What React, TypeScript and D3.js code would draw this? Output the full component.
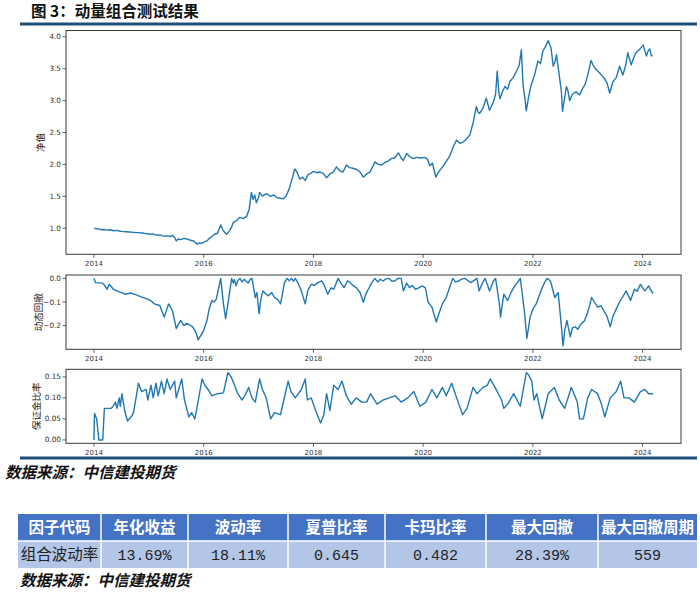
import React from 'react';
import * as d3 from 'd3';

// Net value (净值) series: [decimal year, value]
const navSeries: [number, number][] = [
  [2014.00, 1.00], [2014.05, 0.99], [2014.10, 0.985], [2014.14, 0.975], [2014.18, 0.98], [2014.23, 0.97], [2014.30, 0.975],
  [2014.36, 0.96], [2014.42, 0.965], [2014.46, 0.955], [2014.50, 0.95], [2014.58, 0.945], [2014.65, 0.94], [2014.72, 0.935],
  [2014.80, 0.93], [2014.88, 0.925], [2014.95, 0.915], [2015.02, 0.905], [2015.08, 0.91], [2015.14, 0.89],
  [2015.20, 0.895], [2015.26, 0.875], [2015.32, 0.88], [2015.39, 0.87], [2015.44, 0.885], [2015.48, 0.84],
  [2015.50, 0.80], [2015.54, 0.83], [2015.58, 0.82], [2015.64, 0.84], [2015.70, 0.83], [2015.76, 0.81],
  [2015.82, 0.80], [2015.88, 0.75], [2015.92, 0.77], [2015.96, 0.76], [2016.02, 0.79], [2016.06, 0.80],
  [2016.10, 0.84], [2016.15, 0.87], [2016.20, 0.905], [2016.25, 0.92], [2016.31, 1.05], [2016.35, 0.97],
  [2016.40, 0.92], [2016.42, 0.905], [2016.46, 0.95], [2016.50, 1.00], [2016.54, 1.09], [2016.60, 1.12],
  [2016.66, 1.17], [2016.72, 1.15], [2016.78, 1.18], [2016.83, 1.30], [2016.87, 1.56], [2016.90, 1.45],
  [2016.93, 1.52], [2016.96, 1.40], [2017.00, 1.48], [2017.02, 1.56], [2017.07, 1.50], [2017.12, 1.53],
  [2017.15, 1.54], [2017.22, 1.50], [2017.28, 1.52], [2017.33, 1.48], [2017.40, 1.47], [2017.45, 1.46],
  [2017.50, 1.50], [2017.56, 1.62], [2017.62, 1.80], [2017.66, 1.93], [2017.70, 1.88], [2017.75, 1.77],
  [2017.80, 1.80], [2017.85, 1.75], [2017.90, 1.84], [2017.95, 1.86], [2018.00, 1.89], [2018.06, 1.87],
  [2018.12, 1.88], [2018.18, 1.86], [2018.24, 1.79], [2018.30, 1.85], [2018.36, 1.88], [2018.42, 1.96],
  [2018.48, 1.90], [2018.54, 1.88], [2018.60, 1.99], [2018.66, 1.95], [2018.72, 1.94], [2018.79, 1.92],
  [2018.85, 1.88], [2018.91, 1.80], [2018.97, 1.85], [2019.03, 1.88], [2019.08, 1.96], [2019.12, 2.04],
  [2019.18, 2.00], [2019.24, 1.99], [2019.30, 2.03], [2019.36, 2.05], [2019.42, 2.09], [2019.48, 2.10],
  [2019.55, 2.18], [2019.60, 2.10], [2019.64, 2.06], [2019.70, 2.17], [2019.76, 2.12], [2019.82, 2.09],
  [2019.88, 2.11], [2019.95, 2.10], [2020.03, 2.11], [2020.08, 2.08], [2020.12, 1.98], [2020.17, 2.02],
  [2020.23, 1.80], [2020.28, 1.88], [2020.37, 1.98], [2020.43, 2.06], [2020.49, 2.14], [2020.55, 2.28],
  [2020.61, 2.38], [2020.67, 2.33], [2020.73, 2.35], [2020.79, 2.40], [2020.85, 2.46], [2020.91, 2.65],
  [2020.97, 2.91], [2021.00, 2.82], [2021.03, 2.80], [2021.09, 2.88], [2021.15, 3.04], [2021.21, 2.85],
  [2021.28, 2.98], [2021.32, 3.10], [2021.35, 3.46], [2021.38, 3.12], [2021.40, 3.03], [2021.45, 3.15],
  [2021.49, 3.22], [2021.54, 3.18], [2021.58, 3.30], [2021.64, 3.36], [2021.70, 3.46], [2021.75, 3.55],
  [2021.79, 3.80], [2021.82, 3.25], [2021.86, 3.00], [2021.88, 2.84], [2021.92, 3.05], [2021.97, 3.25],
  [2022.03, 3.40], [2022.09, 3.62], [2022.14, 3.58], [2022.18, 3.77], [2022.23, 3.85], [2022.28, 3.94],
  [2022.33, 3.83], [2022.37, 3.54], [2022.40, 3.60], [2022.43, 3.72], [2022.48, 3.40], [2022.52, 3.14],
  [2022.54, 2.83], [2022.58, 3.05], [2022.61, 3.22], [2022.64, 3.15], [2022.67, 3.00], [2022.72, 3.10],
  [2022.79, 3.14], [2022.85, 3.09], [2022.90, 3.18], [2022.95, 3.25], [2023.00, 3.40], [2023.06, 3.63],
  [2023.10, 3.55], [2023.16, 3.48], [2023.21, 3.44], [2023.25, 3.40], [2023.30, 3.35], [2023.35, 3.28],
  [2023.40, 3.12], [2023.46, 3.30], [2023.52, 3.36], [2023.58, 3.54], [2023.64, 3.40], [2023.69, 3.55],
  [2023.73, 3.75], [2023.79, 3.56], [2023.84, 3.68], [2023.88, 3.75], [2023.94, 3.80], [2024.01, 3.87],
  [2024.04, 3.78], [2024.07, 3.70], [2024.10, 3.78], [2024.13, 3.81], [2024.16, 3.70], [2024.18, 3.71],
];

// Drawdown (动态回撤) series
const drawdownSeries: [number, number][] = [
  [2014.00, 0], [2014.03, -0.018], [2014.16, -0.02], [2014.20, -0.032], [2014.24, -0.046], [2014.28, -0.025],
  [2014.35, -0.045], [2014.42, -0.053], [2014.50, -0.06], [2014.57, -0.067], [2014.66, -0.062], [2014.76, -0.069],
  [2014.86, -0.078], [2014.98, -0.088], [2015.04, -0.095], [2015.10, -0.108],
  [2015.20, -0.115], [2015.28, -0.164], [2015.36, -0.108], [2015.43, -0.136], [2015.50, -0.212],
  [2015.58, -0.178], [2015.64, -0.2], [2015.69, -0.19], [2015.80, -0.205], [2015.86, -0.23], [2015.90, -0.261],
  [2015.95, -0.24], [2015.99, -0.226], [2016.06, -0.178], [2016.10, -0.13], [2016.15, -0.094], [2016.19, -0.1],
  [2016.23, -0.088], [2016.31, 0], [2016.36, -0.108], [2016.40, -0.171],
  [2016.45, -0.094], [2016.51, 0], [2016.54, -0.02], [2016.56, -0.005], [2016.59, -0.032], [2016.62, -0.01],
  [2016.66, 0], [2016.70, -0.015], [2016.74, -0.004], [2016.77, -0.011], [2016.81, -0.02], [2016.85, -0.003],
  [2016.88, 0], [2016.94, -0.081], [2016.97, -0.06], [2017.01, -0.15], [2017.04, -0.09], [2017.08, -0.053],
  [2017.13, -0.065], [2017.18, -0.074], [2017.24, -0.06], [2017.29, -0.081], [2017.35, -0.09],
  [2017.40, -0.108], [2017.44, -0.06], [2017.47, -0.02], [2017.52, 0], [2017.56, -0.01], [2017.60, 0],
  [2017.64, -0.012], [2017.67, 0], [2017.72, -0.02], [2017.78, -0.053], [2017.85, -0.108],
  [2017.90, -0.05], [2017.96, -0.025], [2018.02, -0.03], [2018.08, -0.018], [2018.15, -0.011], [2018.20, -0.03],
  [2018.26, -0.067], [2018.32, -0.04], [2018.37, -0.046], [2018.45, 0], [2018.50, -0.02], [2018.56, -0.039],
  [2018.62, -0.01], [2018.67, -0.018], [2018.72, -0.03], [2018.78, -0.039], [2018.85, -0.06], [2018.91, -0.101],
  [2018.95, -0.07], [2019.00, -0.046], [2019.06, -0.02], [2019.12, 0], [2019.17, -0.015], [2019.22, -0.004],
  [2019.27, -0.011], [2019.32, -0.002], [2019.38, 0], [2019.43, -0.012], [2019.49, -0.01], [2019.54, 0],
  [2019.60, 0], [2019.64, -0.053], [2019.70, -0.02], [2019.75, -0.039], [2019.80, -0.03], [2019.86, -0.046],
  [2019.92, -0.04], [2019.98, -0.032], [2020.04, -0.04], [2020.09, -0.101], [2020.16, -0.122],
  [2020.24, -0.185], [2020.30, -0.14], [2020.35, -0.108], [2020.42, -0.081], [2020.48, -0.04], [2020.54, 0],
  [2020.59, -0.015], [2020.65, -0.011], [2020.70, -0.003], [2020.76, 0], [2020.82, -0.01],
  [2020.87, -0.018], [2020.98, 0], [2021.02, -0.053], [2021.08, -0.02], [2021.13, 0], [2021.21, -0.053],
  [2021.28, -0.011], [2021.32, 0], [2021.39, -0.108], [2021.41, -0.164], [2021.47, -0.067], [2021.54, -0.094],
  [2021.60, -0.06], [2021.65, -0.039], [2021.71, -0.02], [2021.77, 0], [2021.80, -0.053], [2021.85, -0.15],
  [2021.89, -0.254], [2021.95, -0.164], [2022.00, -0.13], [2022.06, -0.108], [2022.12, -0.07], [2022.17, -0.039],
  [2022.22, -0.015], [2022.26, 0], [2022.32, -0.011], [2022.40, -0.081], [2022.46, -0.06], [2022.51, -0.178],
  [2022.55, -0.286], [2022.58, -0.22], [2022.62, -0.178], [2022.68, -0.247], [2022.72, -0.21], [2022.77, -0.205],
  [2022.82, -0.215], [2022.88, -0.192], [2022.94, -0.18], [2022.99, -0.15], [2023.04, -0.11],
  [2023.07, -0.081], [2023.12, -0.1], [2023.18, -0.122], [2023.24, -0.115], [2023.29, -0.136], [2023.35, -0.16],
  [2023.41, -0.205], [2023.46, -0.16], [2023.52, -0.129], [2023.58, -0.1],
  [2023.63, -0.081], [2023.70, -0.053], [2023.78, -0.094], [2023.85, -0.046], [2023.90, -0.055], [2023.96, -0.025],
  [2024.04, -0.053], [2024.11, -0.032], [2024.15, -0.05], [2024.19, -0.064],
];

// Margin ratio (保证金比率) series
const marginSeries: [number, number][] = [
  [2014.00, 0.0], [2014.01, 0.063], [2014.05, 0.05], [2014.09, 0.0], [2014.16, 0.0], [2014.19, 0.075],
  [2014.31, 0.075], [2014.35, 0.08], [2014.39, 0.09], [2014.42, 0.075], [2014.46, 0.1], [2014.48, 0.08],
  [2014.51, 0.11], [2014.56, 0.07], [2014.61, 0.045], [2014.68, 0.055], [2014.72, 0.065], [2014.78, 0.11],
  [2014.81, 0.135], [2014.87, 0.115], [2014.95, 0.12], [2014.98, 0.095], [2015.04, 0.13], [2015.08, 0.1],
  [2015.13, 0.135], [2015.17, 0.105], [2015.23, 0.14], [2015.28, 0.11], [2015.33, 0.145], [2015.39, 0.12],
  [2015.47, 0.14], [2015.50, 0.1], [2015.60, 0.145], [2015.65, 0.095], [2015.73, 0.055], [2015.78, 0.065],
  [2015.84, 0.05], [2015.91, 0.1], [2015.97, 0.145], [2016.02, 0.13], [2016.08, 0.12], [2016.15, 0.105],
  [2016.25, 0.11], [2016.36, 0.112], [2016.44, 0.16], [2016.50, 0.15], [2016.55, 0.135], [2016.62, 0.11],
  [2016.70, 0.095], [2016.77, 0.11], [2016.82, 0.125], [2016.88, 0.1], [2016.94, 0.09], [2017.02, 0.145],
  [2017.07, 0.12], [2017.14, 0.1], [2017.22, 0.05], [2017.29, 0.065], [2017.40, 0.06], [2017.46, 0.095],
  [2017.54, 0.14], [2017.59, 0.115], [2017.67, 0.1], [2017.78, 0.12], [2017.85, 0.145], [2017.89, 0.095],
  [2017.96, 0.1], [2018.04, 0.07], [2018.13, 0.04], [2018.19, 0.06], [2018.24, 0.11], [2018.30, 0.07],
  [2018.37, 0.13], [2018.45, 0.12], [2018.52, 0.14], [2018.60, 0.105], [2018.69, 0.085], [2018.78, 0.1],
  [2018.88, 0.09], [2018.97, 0.09], [2019.04, 0.11], [2019.16, 0.085], [2019.27, 0.095], [2019.38, 0.1],
  [2019.49, 0.105], [2019.60, 0.09], [2019.72, 0.1], [2019.83, 0.115], [2019.94, 0.08], [2020.05, 0.09],
  [2020.16, 0.12], [2020.25, 0.1], [2020.35, 0.125], [2020.42, 0.105], [2020.52, 0.135], [2020.61, 0.1],
  [2020.72, 0.06], [2020.80, 0.075], [2020.91, 0.125], [2020.98, 0.11], [2021.09, 0.125], [2021.17, 0.13],
  [2021.22, 0.145], [2021.31, 0.125], [2021.43, 0.095], [2021.47, 0.075], [2021.54, 0.085], [2021.65, 0.11],
  [2021.77, 0.08], [2021.88, 0.16], [2021.92, 0.155], [2021.98, 0.14], [2022.02, 0.095], [2022.07, 0.11],
  [2022.17, 0.05], [2022.28, 0.11], [2022.39, 0.125], [2022.48, 0.095], [2022.58, 0.075], [2022.70, 0.125],
  [2022.81, 0.09], [2022.85, 0.05], [2022.92, 0.05], [2023.00, 0.1], [2023.07, 0.12], [2023.18, 0.11],
  [2023.25, 0.085], [2023.31, 0.055], [2023.41, 0.1], [2023.52, 0.115], [2023.60, 0.14], [2023.66, 0.1],
  [2023.75, 0.1], [2023.85, 0.09], [2023.96, 0.115], [2024.04, 0.12], [2024.11, 0.11], [2024.19, 0.11],
];

const yearTicks = [2014, 2016, 2018, 2020, 2022, 2024];
const navTicks = [1.0, 1.5, 2.0, 2.5, 3.0, 3.5, 4.0];
const drawdownTicks = [0.0, -0.1, -0.2];
const marginTicks = [0.0, 0.05, 0.1, 0.15];

const titleText = '图 3：动量组合测试结果';
const sourceText = '数据来源：中信建投期货';
const tableHeaders = ['因子代码', '年化收益', '波动率', '夏普比率', '卡玛比率', '最大回撤', '最大回撤周期'];
const tableValues = ['组合波动率', '13.69%', '18.11%', '0.645', '0.482', '28.39%', '559'];

const LINE = '#1f77b4';
const NAVY = '#1f4e79';
const AXIS = '#3a3a3a';
const CJK = '"Noto Sans CJK SC", sans-serif';
const TICKFONT = '"DejaVu Sans", sans-serif';

const PX0 = 66;
const PX1 = 681;

function padded(ext: [number, number]): [number, number] {
  const r = ext[1] - ext[0];
  return [ext[0] - r * 0.05, ext[1] + r * 0.05];
}

const allX = [...navSeries, ...drawdownSeries, ...marginSeries].map((d) => d[0]);
const xScale = d3.scaleLinear().domain(padded(d3.extent(allX) as [number, number])).range([PX0, PX1]);

type PanelProps = {
  data: [number, number][];
  top: number;
  bottom: number;
  ticks: number[];
  fmt: (v: number) => string;
  label: string;
  labelX: number;
};

function Panel({ data, top, bottom, ticks, fmt, label, labelX }: PanelProps) {
  const yExt = d3.extent(data, (d) => d[1]) as [number, number];
  const y = d3.scaleLinear().domain(padded(yExt)).range([bottom, top]);
  const line = d3
    .line<[number, number]>()
    .x((d) => xScale(d[0]))
    .y((d) => y(d[1]));
  return (
    <g>
      <path d={line(data) || ''} fill="none" stroke={LINE} strokeWidth={1.4} strokeLinejoin="round" />
      <rect x={PX0} y={top} width={PX1 - PX0} height={bottom - top} fill="none" stroke={AXIS} strokeWidth={1} />
      {ticks.map((t) => (
        <g key={t}>
          <line x1={PX0 - 3.5} x2={PX0} y1={y(t)} y2={y(t)} stroke={AXIS} strokeWidth={0.8} />
          <text x={PX0 - 5} y={y(t)} dy="0.35em" textAnchor="end" fontFamily={TICKFONT} fontSize={7.3} fill="#333">
            {fmt(t)}
          </text>
        </g>
      ))}
      {yearTicks.map((yr) => (
        <g key={yr}>
          <line x1={xScale(yr)} x2={xScale(yr)} y1={bottom} y2={bottom + 3.5} stroke={AXIS} strokeWidth={0.8} />
          <text x={xScale(yr)} y={bottom + 12} textAnchor="middle" fontFamily={TICKFONT} fontSize={7} fill="#333">
            {yr}
          </text>
        </g>
      ))}
      <text
        transform={`translate(${labelX},${(top + bottom) / 2}) rotate(-90)`}
        textAnchor="middle"
        dy="0.35em"
        fontFamily={CJK}
        fontSize={9.5}
        fill="#222"
      >
        {label}
      </text>
    </g>
  );
}

const colEdges = [18, 101, 188, 288, 385, 486, 598, 697];
const HEAD_TOP = 514;
const HEAD_BOT = 541;
const ROW_BOT = 568;

export default function App() {
  const minus = (s: string) => s.replace('-', '\u2212');
  return (
    <svg
      width={700}
      height={593}
      viewBox="0 0 700 593"
      style={{ position: 'absolute', left: 0, top: 0, background: '#fff' }}
    >
      <rect x={0} y={0} width={700} height={593} fill="#fff" />
      <text x={31} y={17} fontFamily={CJK} fontWeight="bold" fontSize={15.5} fill="#111">
        {titleText}
      </text>
      <rect x={20} y={22.5} width={677} height={3} fill={NAVY} />

      <Panel data={navSeries} top={30.5} bottom={254.3} ticks={navTicks} fmt={d3.format('.1f')} label="净值" labelX={41} />
      <Panel
        data={drawdownSeries}
        top={275}
        bottom={349.3}
        ticks={drawdownTicks}
        fmt={(v) => minus(d3.format('.1f')(v))}
        label="动态回撤"
        labelX={38.5}
      />
      <Panel
        data={marginSeries}
        top={369.3}
        bottom={443.3}
        ticks={marginTicks}
        fmt={d3.format('.2f')}
        label="保证金比率"
        labelX={37}
      />

      <rect x={20} y={456.5} width={677} height={3} fill={NAVY} />
      <text x={5} y={478} fontFamily={CJK} fontWeight="bold" fontStyle="italic" fontSize={15.5} fill="#111">
        {sourceText}
      </text>

      {tableHeaders.map((h, i) => {
        const x0 = colEdges[i];
        const x1 = colEdges[i + 1];
        return (
          <g key={h}>
            <rect x={x0} y={HEAD_TOP} width={x1 - x0} height={HEAD_BOT - HEAD_TOP} fill="#4472c4" />
            <rect x={x0} y={HEAD_BOT} width={x1 - x0} height={ROW_BOT - HEAD_BOT} fill="#b4c6e7" />
            <text
              x={(x0 + x1) / 2}
              y={(HEAD_TOP + HEAD_BOT) / 2}
              dy="0.36em"
              textAnchor="middle"
              fontFamily={CJK}
              fontWeight="bold"
              fontSize={15.5}
              fill="#fff"
            >
              {h}
            </text>
            <text
              x={(x0 + x1) / 2}
              y={(HEAD_BOT + ROW_BOT) / 2}
              dy="0.36em"
              textAnchor="middle"
              fontFamily={i === 0 ? CJK : '"Liberation Mono", "DejaVu Sans Mono", monospace'}
              fontSize={i === 0 ? 15.5 : 15}
              fill="#222"
            >
              {tableValues[i]}
            </text>
          </g>
        );
      })}
      {colEdges.slice(1, -1).map((cx) => (
        <line key={cx} x1={cx} x2={cx} y1={HEAD_TOP} y2={ROW_BOT} stroke="#fff" strokeWidth={1.5} />
      ))}
      <line x1={18} x2={697} y1={HEAD_BOT} y2={HEAD_BOT} stroke="#fff" strokeWidth={1.5} />

      <text x={20} y={586} fontFamily={CJK} fontWeight="bold" fontStyle="italic" fontSize={15.5} fill="#111">
        {sourceText}
      </text>
    </svg>
  );
}
